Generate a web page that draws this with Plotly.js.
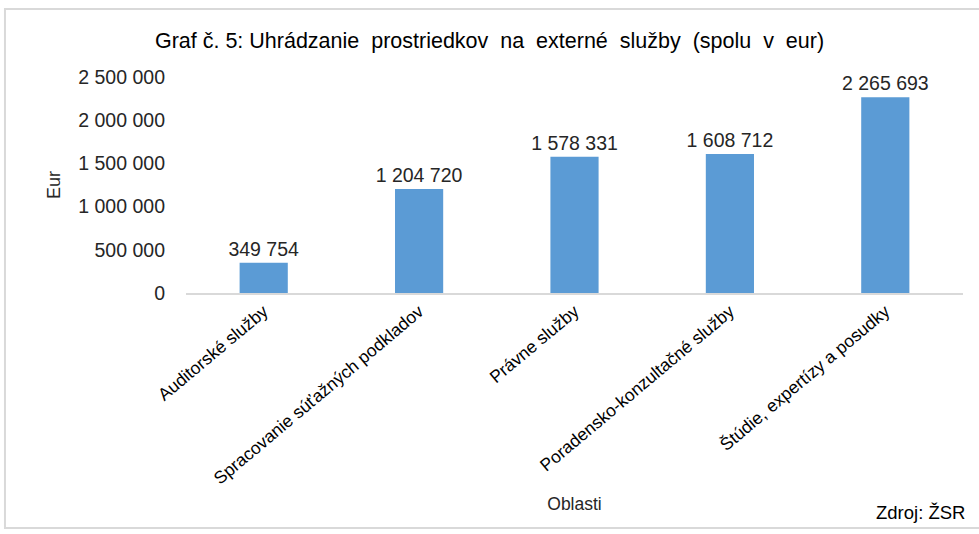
<!DOCTYPE html>
<html>
<head>
<meta charset="utf-8">
<script src="https://cdn.plot.ly/plotly-3.0.1.min.js"></script>
<style>
  html, body { margin: 0; padding: 0; background: #fff; }
  #plot { width: 979px; height: 534px; }
</style>
</head>
<body>
<div id="plot"></div>
<script>
var oblasti = ['Auditorské služby', 'Spracovanie súťažných podkladov', 'Právne služby',
  'Poradensko-konzultačné služby', 'Štúdie, expertízy a posudky'];
var suma = [349754, 1204720, 1578331, 1608712, 2265693];
var yTicks = [0, 500000, 1000000, 1500000, 2000000, 2500000];

var trace = {
  type: 'bar',
  x: oblasti,
  y: suma,
  width: 0.31,
  marker: {color: '#5B9BD5'},
  text: suma,
  texttemplate: '%{y:,d}',
  textposition: 'outside',
  constraintext: 'none',
  textfont: {family: 'Liberation Sans, Arial, sans-serif', size: 19.5, color: '#262626'},
  cliponaxis: false,
  hoverinfo: 'x+y'
};

var layout = {
  width: 979,
  height: 534,
  separators: ', ',
  font: {family: 'Liberation Sans, Arial, sans-serif', color: '#262626'},
  paper_bgcolor: '#fff',
  plot_bgcolor: '#fff',
  showlegend: false,
  margin: {l: 186, r: 16, t: 77, b: 241},
  title: {
    text: 'Graf č. 5: Uhrádzanie  prostriedkov  na  externé  služby  (spolu  v  eur)',
    font: {size: 21.5, color: '#000'},
    x: 0.5, xanchor: 'center', y: 0.925, yanchor: 'middle'
  },
  xaxis: {
    type: 'category',
    tickangle: -40,
    tickfont: {size: 17.5, color: '#000'},
    showline: true,
    linecolor: '#d9d9d9',
    linewidth: 1.5,
    ticks: '',
    showgrid: false,
    title: {text: 'Oblasti', font: {size: 17.5, color: '#262626'}, standoff: 10}
  },
  yaxis: {
    range: [0, 2500000],
    tickvals: yTicks,
    tickformat: ',d',
    tickfont: {size: 19.5, color: '#262626'},
    showgrid: false,
    zeroline: false,
    showline: false,
    ticks: '',
    ticklabelstandoff: 20,
    title: {text: 'Eur', font: {size: 18, color: '#262626'}, standoff: 12}
  },
  annotations: [{
    text: 'Zdroj: ŽSR',
    xref: 'paper', yref: 'paper',
    x: 1.005, y: -1.014,
    xanchor: 'right', yanchor: 'middle',
    showarrow: false,
    font: {size: 18.5, color: '#000'}
  }],
  shapes: [{
    type: 'rect', xref: 'paper', yref: 'paper',
    x0: -0.233, x1: 1.05, y0: -1.088, y1: 1.315,
    line: {color: '#d9d9d9', width: 2}
  }]
};

Plotly.newPlot('plot', [trace], layout, {displayModeBar: false, staticPlot: true});
</script>
</body>
</html>
